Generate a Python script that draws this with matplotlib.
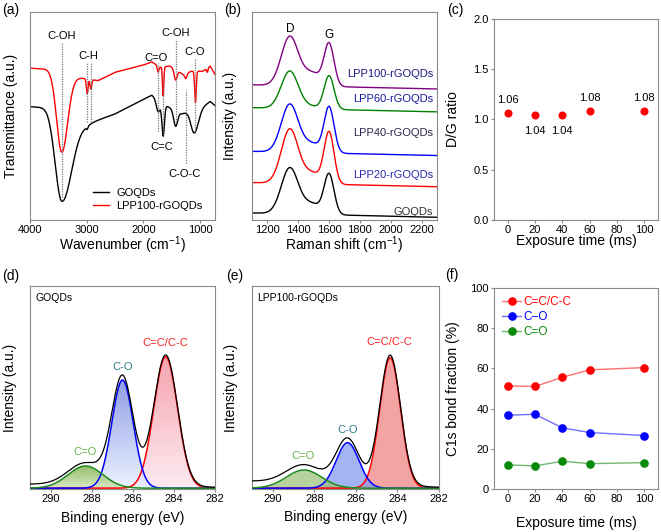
import matplotlib
matplotlib.use('Agg')
import matplotlib.pyplot as plt
import numpy as np
from matplotlib.colors import LinearSegmentedColormap

plt.rcParams['font.family'] = ['Liberation Sans', 'DejaVu Sans']
plt.rcParams['mathtext.fontset'] = 'custom'
plt.rcParams['mathtext.rm'] = 'Liberation Sans'

# ---------------- datos ----------------
# (a) FTIR: linea base (puntos de anclaje) y bandas (centro, profundidad, sigma alto, sigma bajo)
ftir_go_base_x = [4000, 3700, 3000, 2500, 2000, 1850, 1700, 1530, 1320, 900, 820, 735]
ftir_go_base_y = [0.545, 0.54, 0.46, 0.51, 0.58, 0.60, 0.56, 0.54, 0.51, 0.555, 0.57, 0.55]
ftir_go_bandas = [(3440, 0.42, 115, 175), (2990, 0.01, 12, 12), (1740, 0.05, 30, 30),
                  (1650, 0.15, 22, 22), (1430, 0.075, 35, 35), (1100, 0.115, 60, 75)]
ftir_lpp_base_x = [4000, 3700, 3150, 2800, 2500, 2000, 1850, 1700, 1530, 1300, 1150, 950, 820, 735]
ftir_lpp_base_y = [0.73, 0.725, 0.685, 0.67, 0.71, 0.745, 0.76, 0.735, 0.74, 0.70, 0.715, 0.715, 0.74, 0.70]
ftir_lpp_bandas = [(3440, 0.38, 90, 105), (2990, 0.07, 15, 15), (2925, 0.045, 15, 15),
                   (1740, 0.03, 15, 15), (1650, 0.14, 12, 12), (1430, 0.05, 25, 25),
                   (1250, 0.025, 20, 20), (1080, 0.15, 14, 14), (870, 0.02, 12, 12)]
ftir_etiquetas = ['C-OH', 'C-H', 'C=O', 'C=C', 'C-OH', 'C-O-C', 'C-O']
ftir_etiq_x = [3440, 2965, 1770, 1670, 1424, 1265, 1088]
ftir_etiq_y = [0.885, 0.79, 0.78, 0.35, 0.90, 0.22, 0.81]
ftir_lineas_x = [3440, 2990, 2925, 1740, 1650, 1430, 1250, 1080]
ftir_lineas_y0 = [0.11, 0.47, 0.47, 0.43, 0.40, 0.47, 0.275, 0.42]
ftir_lineas_y1 = [0.85, 0.755, 0.755, 0.755, 0.70, 0.865, 0.625, 0.78]

# (b) Raman: muestras, linea base izq/der, alturas D, banda intermedia, G
raman_muestras = ['GOQDs', 'LPP20-rGOQDs', 'LPP40-rGOQDs', 'LPP60-rGOQDs', 'LPP100-rGOQDs']
raman_base_izq = [0.034, 0.18, 0.33, 0.54, 0.65]
raman_base_der = [0.013, 0.16, 0.31, 0.52, 0.63]
raman_h_d = [0.22, 0.26, 0.23, 0.18, 0.235]
raman_h_mid = [0.05, 0.052, 0.043, 0.012, 0.063]
raman_h_g = [0.19, 0.245, 0.217, 0.16, 0.20]
raman_etiq_y = [0.04, 0.215, 0.42, 0.58, 0.70]

# (c) relacion D/G
tiempo = [0, 20, 40, 60, 100]
dg_ratio = [1.06, 1.04, 1.04, 1.08, 1.08]

# (d), (e) XPS C1s: componentes (centro, altura, sigma)
xps_nombres = ['C=C/C-C', 'C-O', 'C=O']
xps_go_centro = [284.4, 286.5, 288.3]
xps_go_altura = [0.65, 0.535, 0.11]
xps_go_sigma = [0.58, 0.52, 0.85]
xps_lpp_centro = [284.35, 286.4, 288.5]
xps_lpp_altura = [0.645, 0.225, 0.09]
xps_lpp_sigma = [0.5, 0.55, 0.85]
xps_go_etiq = [(284.43, 0.72), (286.48, 0.60), (288.33, 0.18)]
xps_lpp_etiq = [(284.39, 0.725), (286.39, 0.29), (288.54, 0.16)]

# (f) fraccion de enlaces C1s
frac_cc = [51.3, 51.0, 55.6, 59.3, 60.4]
frac_co = [36.7, 37.2, 30.4, 28.1, 26.6]
frac_c_o = [12.0, 11.5, 13.8, 12.6, 13.1]

# ---------------- figura ----------------
W, H = 661, 532
fig = plt.figure(figsize=(W / 100, H / 100), dpi=100)
GRIS = '#8a8a8a'


def ejes(l, t, r, b):
    ax = fig.add_axes([l / W, 1 - b / H, (r - l) / W, (b - t) / H])
    for s in ax.spines.values():
        s.set_color(GRIS)
        s.set_linewidth(0.8)
    ax.tick_params(direction='out', length=2.5, width=0.8, color=GRIS, pad=1.2, labelsize=8)
    return ax


def ftir(wn, bx, by, bandas):
    y = np.interp(wn, bx[::-1], by[::-1])
    for c, d, s_hi, s_lo in bandas:
        s = np.where(wn > c, s_hi, s_lo)
        y = y - d * np.exp(-(wn - c) ** 2 / (2 * s ** 2))
    return y


def gauss(x, c, h, s):
    return h * np.exp(-(x - c) ** 2 / (2 * s ** 2))


# (a)
ax = ejes(30, 12, 215, 220)
wn = np.linspace(4000, 735, 2000)
ax.plot(wn, ftir(wn, ftir_go_base_x, ftir_go_base_y, ftir_go_bandas), color='black', lw=1, label='GOQDs')
ax.plot(wn, ftir(wn, ftir_lpp_base_x, ftir_lpp_base_y, ftir_lpp_bandas), color='red', lw=1, label='LPP100-rGOQDs')
ax.vlines(ftir_lineas_x, ftir_lineas_y0, ftir_lineas_y1, colors='#777777', linestyles=(0, (1, 1)), lw=0.9)
for t, x, y in zip(ftir_etiquetas, ftir_etiq_x, ftir_etiq_y):
    ax.text(x, y, t, ha='center', va='center', fontsize=8)
ax.set_xlim(4000, 735)
ax.set_ylim(0, 1)
ax.set_xticks([4000, 3000, 2000, 1000])
ax.set_yticks([])
ax.legend(loc='lower right', bbox_to_anchor=(0.98, 0.0), frameon=False, fontsize=8,
          handlelength=1.5, handletextpad=0.6, labelspacing=0.25, borderpad=0.3)
ax.set_xlabel('Wavenumber (cm$^{-1}$)', fontsize=10)
ax.set_ylabel('Transmittance (a.u.)', fontsize=10)
ax.xaxis.set_label_coords(0.5, -0.068)
ax.yaxis.set_label_coords(-0.065, 0.5)

# (b)
ax = ejes(252, 12, 437, 220)
rs = np.linspace(1100, 2300, 1200)
colores_raman = ['black', 'red', 'blue', 'green', 'purple']
colores_texto = ['#333333', '#2a2ab0', '#2a2a50', '#1a1aa0', '#1a1a80']
for i in range(len(raman_muestras)):
    base = raman_base_izq[i] + (raman_base_der[i] - raman_base_izq[i]) * (rs - 1100) / 1200
    y = base + gauss(rs, 1345, raman_h_d[i], 55) + gauss(rs, 1490, raman_h_mid[i], 60) + gauss(rs, 1600, raman_h_g[i], 32)
    ax.plot(rs, y, color=colores_raman[i], lw=1)
    ax.text(2275, raman_etiq_y[i], raman_muestras[i], ha='right', va='center', fontsize=8, color=colores_texto[i])
ax.text(1345, 0.92, 'D', ha='center', va='center', fontsize=8.5)
ax.text(1600, 0.89, 'G', ha='center', va='center', fontsize=8.5)
ax.set_xlim(1100, 2300)
ax.set_ylim(0, 1)
ax.set_xticks([1200, 1400, 1600, 1800, 2000, 2200])
ax.set_yticks([])
ax.set_xlabel('Raman shift (cm$^{-1}$)', fontsize=10)
ax.set_ylabel('Intensity (a.u.)', fontsize=10)
ax.xaxis.set_label_coords(0.5, -0.068)
ax.yaxis.set_label_coords(-0.081, 0.5)

# (c)
ax = ejes(494, 19, 658, 220)
ax.plot(tiempo, dg_ratio, 'o', color='red', ms=4.8, mec='red')
for i, (x, y) in enumerate(zip(tiempo, dg_ratio)):
    arriba = y > 1.05
    ax.annotate('%.2f' % y, (x, y), xytext=(0, 9.5 if arriba else -11), textcoords='offset points',
                ha='center', va='center', fontsize=8)
ax.set_xlim(-10, 110)
ax.set_ylim(0, 2)
ax.set_xticks([0, 20, 40, 60, 80, 100])
ax.set_yticks([0, 0.5, 1.0, 1.5, 2.0])
ax.yaxis.set_major_formatter(plt.FormatStrFormatter('%.1f'))
ax.set_xlabel('Exposure time (ms)', fontsize=10)
ax.set_ylabel('D/G ratio', fontsize=10)
ax.xaxis.set_label_coords(0.5, -0.072)
ax.yaxis.set_label_coords(-0.207, 0.5)


def xps(ax, centros, alturas, sigmas, etiq, nombre, degradado, fondo):
    be = np.linspace(291, 282, 1500)
    colores = ['red', 'blue', '#1e8c1e']
    texto_col = ['#ff2020', '#2e7d8c', '#6ab04c']
    total = fondo[1] + (fondo[0] - fondo[1]) * (be - 282) / 9
    for i in range(3):
        y = gauss(be, centros[i], alturas[i], sigmas[i])
        total = total + y
        if degradado:
            poly = ax.fill_between(be, 0, y, facecolor='none', edgecolor='none')
            cm = LinearSegmentedColormap.from_list('g%d' % i, degradado[i][::-1])
            im = ax.imshow(np.linspace(0, 1, 256).reshape(-1, 1), cmap=cm, aspect='auto', origin='lower',
                           extent=[282, 291, 0, alturas[i]], zorder=1, alpha=0.8)
            im.set_clip_path(poly.get_paths()[0], transform=ax.transData)
        else:
            ax.fill_between(be, 0, y, color=['#f08080', '#8098f0', '#9cc07a'][i], alpha=0.72, lw=0, zorder=1)
        ax.plot(be, y, color=colores[i], lw=1.1, zorder=3)
        ax.text(etiq[i][0], etiq[i][1], xps_nombres[i], ha='center', va='center', fontsize=8, color=texto_col[i])
    ax.plot(be, total, color='black', lw=0.9, zorder=4)
    ax.text(0.03, 0.94, nombre, transform=ax.transAxes, ha='left', va='center', fontsize=7.5)
    ax.set_xlim(291, 282)
    ax.set_ylim(-0.004, 1)
    ax.set_xticks([290, 288, 286, 284, 282])
    ax.set_yticks([])
    ax.set_xlabel('Binding energy (eV)', fontsize=10)
    ax.set_ylabel('Intensity (a.u.)', fontsize=10)


# (d)
ax = ejes(30, 286, 215, 489)
xps(ax, xps_go_centro, xps_go_altura, xps_go_sigma, xps_go_etiq, 'GOQDs',
    [('#f48c9a', '#fde6ee'), ('#7484de', '#e6f0ff'), ('#7aab48', '#cfe4b4')], (0.02, 0.005))
ax.xaxis.set_label_coords(0.5, -0.11)
ax.yaxis.set_label_coords(-0.07, 0.5)

# (e)
ax = ejes(252, 286, 439, 489)
xps(ax, xps_lpp_centro, xps_lpp_altura, xps_lpp_sigma, xps_lpp_etiq, 'LPP100-rGOQDs', None, (0.035, 0.005))
ax.xaxis.set_label_coords(0.5, -0.105)
ax.yaxis.set_label_coords(-0.075, 0.5)

# (f)
ax = ejes(494, 288, 658, 489)
ax.plot(tiempo, frac_cc, '-', color='#ff7070', lw=1, marker='o', mfc='red', mec='red', ms=5.2, label='C=C/C-C')
ax.plot(tiempo, frac_co, '-', color='#7070ff', lw=1, marker='o', mfc='blue', mec='blue', ms=5.2, label='C\u2212O')
ax.plot(tiempo, frac_c_o, '-', color='#70b870', lw=1, marker='o', mfc='#0a8a0a', mec='#0a8a0a', ms=5.2, label='C=O')
ax.legend(loc='upper left', frameon=False, fontsize=8.5, handlelength=1.6, handletextpad=0.2,
          labelspacing=0.25, borderaxespad=0.3, labelcolor=['red', 'blue', '#0a8a0a'])
ax.set_xlim(-10, 110)
ax.set_ylim(0, 100)
ax.set_xticks([0, 20, 40, 60, 80, 100])
ax.set_yticks([0, 20, 40, 60, 80, 100])
ax.set_xlabel('Exposure time (ms)', fontsize=10)
ax.set_ylabel('C1s bond fraction (%)', fontsize=10)
ax.xaxis.set_label_coords(0.5, -0.135)
ax.yaxis.set_label_coords(-0.207, 0.5)

# letras de los paneles
for letra, x, y in [('(a)', 2, 10), ('(b)', 224, 10), ('(c)', 447, 10),
                    ('(d)', 2, 276), ('(e)', 226, 276), ('(f)', 445, 275)]:
    fig.text(x / W, 1 - y / H, letra, ha='left', va='center', fontsize=10)

fig.savefig('out.png', dpi=100)
